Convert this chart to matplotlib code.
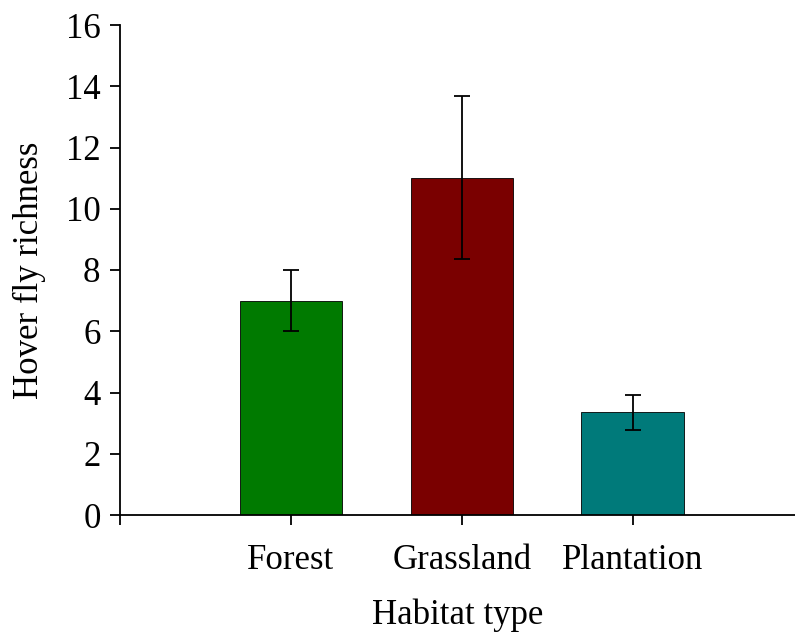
import matplotlib
matplotlib.use("Agg")
from matplotlib import pyplot as plt
import numpy as np

habitats = ["Forest", "Grassland", "Plantation"]
richness = [7.0, 11.0, 3.35]
err_low = [1.0, 2.65, 0.58]
err_high = [1.0, 2.68, 0.57]
bar_colors = ["#007A00", "#7A0000", "#007A7A"]

plt.rcParams.update({"font.family": "Liberation Serif", "font.size": 25})

fig = plt.figure(figsize=(7.95, 6.33), dpi=100)
ax = fig.add_axes([120 / 795, 118 / 633, 675 / 795, 490 / 633])

x = np.arange(1, len(habitats) + 1)
ax.bar(x, richness, width=0.6, color=bar_colors, edgecolor="black", linewidth=0.6,
       yerr=[err_low, err_high], capsize=5.5,
       error_kw={"elinewidth": 1.3, "capthick": 1.3, "ecolor": "black"})

ax.set_xlim(0, 3.95)
ax.set_ylim(0, 16)
ax.set_yticks(np.arange(0, 17, 2))
ax.set_xticks([0, 1, 2, 3])
ax.set_xticklabels(["", *habitats])
ax.spines["top"].set_visible(False)
ax.spines["right"].set_visible(False)
ax.spines["left"].set_linewidth(1.3)
ax.spines["bottom"].set_linewidth(1.3)
ax.tick_params(direction="out", length=7, width=1.3, pad=7)
ax.tick_params(axis="x", pad=14)

ax.set_xlabel("Habitat type", labelpad=15)
ax.set_ylabel("Hover fly richness", labelpad=14)

fig.savefig("out.png", dpi=100)
